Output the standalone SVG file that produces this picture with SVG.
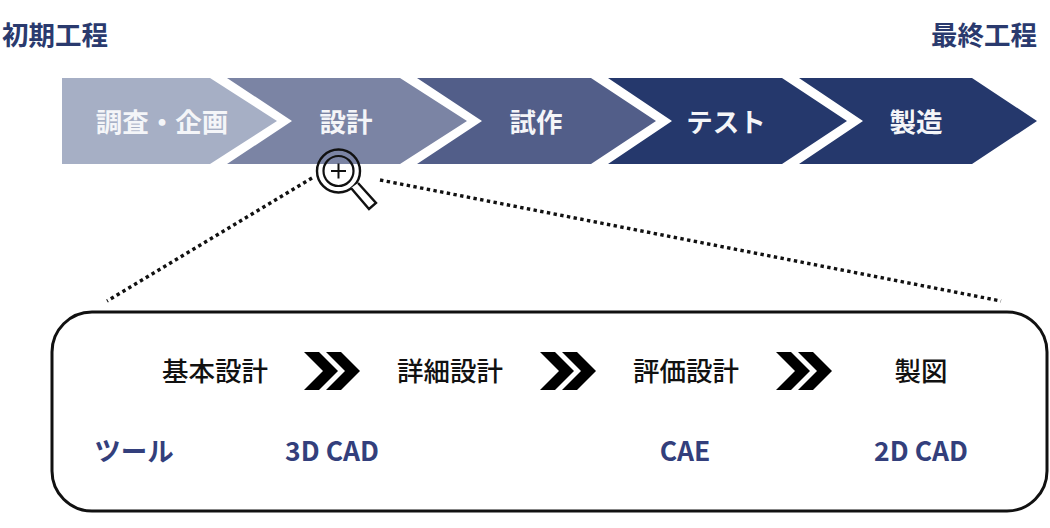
<svg xmlns="http://www.w3.org/2000/svg" width="1050" height="528" viewBox="0 0 1050 528">
<defs>
<path id="chev" d="M0 0H15L34 19L15 38H0L19 19Z"/>
</defs>
<style>
text{font-family:"Noto Sans CJK JP","Noto Sans",sans-serif;font-size:26.5px;text-anchor:middle}
.h{fill:#2a3a6e;font-weight:700}
.w{fill:#f4f5f8;font-weight:700}
.k{fill:#111;font-weight:500}
.t{fill:#333f7c;font-weight:700}
.d{fill:none;stroke:#111;stroke-width:3.4;stroke-dasharray:3.4 3.4}
.c{fill:#000}
</style>
<rect width="1050" height="528" fill="#fff"/>
<g id="label-start"><text class="h" x="55" y="45">初期工程</text></g>
<g id="label-end"><text class="h" x="984" y="45">最終工程</text></g>
<g id="step-1"><path d="M62 78H210L277 121L210 164H62Z" fill="#a6afc5"/><text class="w" x="162" y="132">調査・企画</text></g>
<g id="step-2"><path d="M227 78H400L467 121L400 164H227L292 121Z" fill="#7b84a4"/><text class="w" x="346" y="132">設計</text></g>
<g id="step-3"><path d="M417 78H591L656 121L591 164H417L482 121Z" fill="#525e89"/><text class="w" x="536" y="132">試作</text></g>
<g id="step-4"><path d="M608 78H782L847 121L782 164H608L672 121Z" fill="#25386c"/><text class="w" x="726" y="132">テスト</text></g>
<g id="step-5"><path d="M799 78H972L1037 121L972 164H799L863 121Z" fill="#25386c"/><text class="w" x="916" y="132">製造</text></g>
<g id="connectors">
<path class="d" d="M312 178L107 301"/>
<path class="d" d="M380 180L1001 301"/>
</g>
<g id="magnifier" fill="none" stroke="#111">
<circle cx="338.5" cy="171" r="21.5" stroke-width="2.4"/>
<circle cx="338.5" cy="171" r="15" stroke-width="2.2"/>
<path d="M331 171H346M338.5 163.500V178.500" stroke-width="2"/>
<path d="M351 188L369 209L376 203L358 183" fill="#fff" stroke-width="2.4"/>
</g>
<g id="panel"><rect x="52" y="312" width="995" height="199" rx="40" ry="40" fill="#fff" stroke="#111" stroke-width="3"/></g>
<g id="process-1"><text class="k" x="215" y="381">基本設計</text></g>
<g id="process-2"><text class="k" x="450" y="381">詳細設計</text></g>
<g id="process-3"><text class="k" x="686" y="381">評価設計</text></g>
<g id="process-4"><text class="k" x="921" y="381">製図</text></g>
<g id="arrows" class="c">
<use href="#chev" x="304" y="352"/><use href="#chev" x="326" y="352"/>
<use href="#chev" x="540" y="352"/><use href="#chev" x="562" y="352"/>
<use href="#chev" x="776" y="352"/><use href="#chev" x="798" y="352"/>
</g>
<g id="tool-label"><text class="t" x="134" y="461">ツール</text></g>
<g id="tool-1"><text class="t" x="332" y="461">3D CAD</text></g>
<g id="tool-2"><text class="t" x="685" y="461">CAE</text></g>
<g id="tool-3"><text class="t" x="921" y="461">2D CAD</text></g>
</svg>
